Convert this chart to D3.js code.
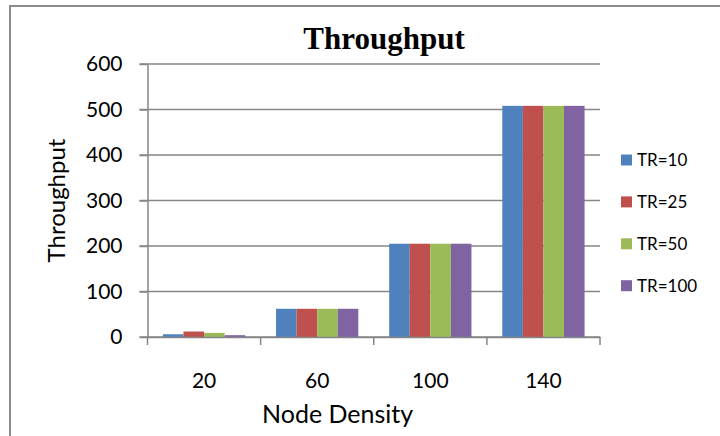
<!DOCTYPE html>
<html><head><meta charset="utf-8">
<script src="https://cdn.jsdelivr.net/npm/d3@7"></script>
<style>
html,body{margin:0;padding:0;background:#fff;}
svg{display:block;}
</style></head>
<body>
<svg id="chart" width="720" height="436"></svg>
<script>
const categories = ["20", "60", "100", "140"];
const seriesNames = ["TR=10", "TR=25", "TR=50", "TR=100"];
const tr10 = [6, 62, 205, 508];
const tr25 = [12, 62, 205, 508];
const tr50 = [9, 62, 205, 508];
const tr100 = [4, 62, 205, 508];
const yTicks = [0, 100, 200, 300, 400, 500, 600];
const colors = ["#4F81BD", "#C0504D", "#9BBB59", "#8064A2"];
const seriesValues = [tr10, tr25, tr50, tr100];

(function () {
const svg = d3.select("#chart");
const font = "Lato, 'Open Sans', sans-serif";
const gridColor = "#868686";

// outer frame
svg.append("rect").attr("x", 10).attr("y", 6).attr("width", 760).attr("height", 460)
  .attr("fill", "none").attr("stroke", "#8c8c8c").attr("stroke-width", 2);

const pL = 147.5, pR = 600, pT = 64, pB = 337;
const y = d3.scaleLinear().domain([0, 600]).range([pB, pT]);
const x = d3.scaleBand().domain(categories).range([pL, pR]).paddingInner(0).paddingOuter(0);
const xs = d3.scaleBand().domain(seriesNames).range([0, x.bandwidth()]).paddingInner(0).paddingOuter(0.75);

// gridlines
svg.append("g").selectAll("line").data(yTicks).join("line")
  .attr("x1", pL - 8).attr("x2", pR)
  .attr("y1", d => y(d)).attr("y2", d => y(d))
  .attr("stroke", gridColor).attr("stroke-width", 1.5);

// bars
const rows = categories.map((c, i) => ({cat: c, vals: seriesNames.map((s, j) => ({s, j, v: seriesValues[j][i]}))}));
svg.append("g").selectAll("g").data(rows).join("g")
  .attr("transform", d => `translate(${x(d.cat)},0)`)
  .selectAll("rect").data(d => d.vals).join("rect")
  .attr("x", d => xs(d.s)).attr("width", xs.bandwidth())
  .attr("y", d => y(d.v)).attr("height", d => y(0) - y(d.v))
  .attr("fill", d => colors[d.j]);

// y axis
const yAxis = svg.append("g").attr("transform", `translate(${pL},0)`)
  .call(d3.axisLeft(y).tickValues(yTicks).tickSizeInner(8).tickSizeOuter(0).tickPadding(17));
yAxis.select(".domain").attr("stroke", gridColor).attr("stroke-width", 1.5);
yAxis.selectAll(".tick line").attr("stroke", gridColor).attr("stroke-width", 1.5);
yAxis.selectAll(".tick text").attr("font-family", font).attr("font-size", 21).attr("fill", "#000");

// x axis
const xAxis = svg.append("g").attr("transform", `translate(0,${pB})`)
  .call(d3.axisBottom(x).tickSize(0).tickPadding(36));
xAxis.select(".domain").attr("stroke", gridColor).attr("stroke-width", 1.5);
xAxis.selectAll(".tick text").attr("font-family", font).attr("font-size", 21).attr("fill", "#000");
// category boundary ticks
const bounds = categories.map(c => x(c)).concat([x(categories[categories.length - 1]) + x.bandwidth()]);
svg.append("g").selectAll("line").data(bounds).join("line")
  .attr("x1", d => d).attr("x2", d => d).attr("y1", pB).attr("y2", pB + 8)
  .attr("stroke", gridColor).attr("stroke-width", 1.5);

// title
svg.append("text").attr("x", 384).attr("y", 49).attr("text-anchor", "middle")
  .attr("font-family", "'Liberation Serif', 'Times New Roman', serif").attr("font-weight", "bold")
  .attr("font-size", 31).text("Throughput");

// axis titles
svg.append("text").attr("transform", `translate(65,${(pT + pB) / 2}) rotate(-90)`)
  .attr("text-anchor", "middle").attr("font-family", font).attr("font-size", 24).text("Throughput");
svg.append("text").attr("x", 262).attr("y", 423).attr("font-family", font).attr("font-size", 25)
  .text("Node Density");

// legend
const lg = svg.append("g").selectAll("g").data(seriesNames).join("g")
  .attr("transform", (d, i) => `translate(621,${160 + i * 41.9})`);
lg.append("rect").attr("x", 0).attr("y", -5.5).attr("width", 11).attr("height", 11)
  .attr("fill", (d, i) => colors[i]);
lg.append("text").attr("x", 16).attr("y", 0).attr("dy", "0.36em")
  .attr("font-family", font).attr("font-size", 17).text(d => d);
})();
</script>
</body></html>
